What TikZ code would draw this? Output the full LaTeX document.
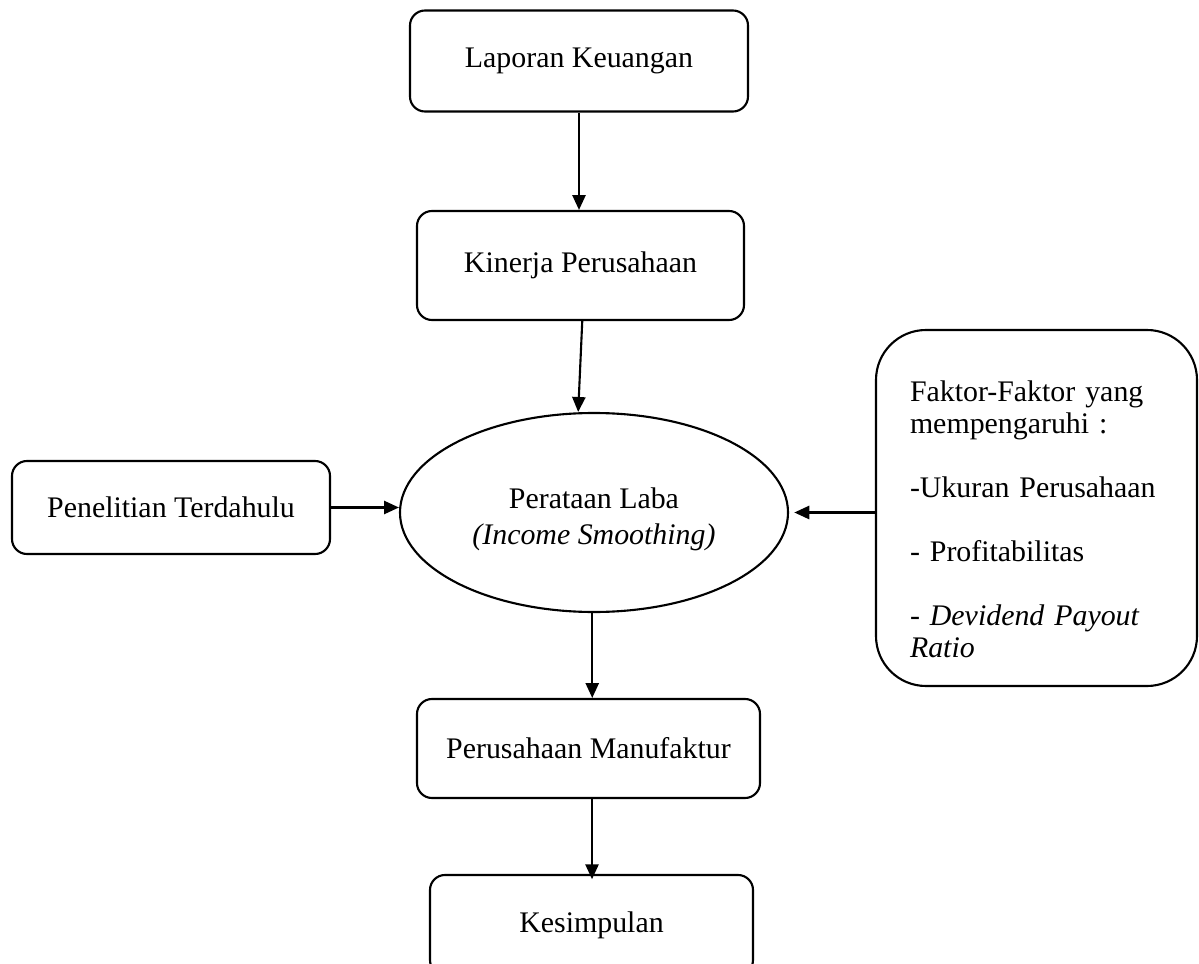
\documentclass[tikz,border=0pt]{standalone}
\usepackage{fontspec}
\setmainfont{Liberation Serif}
\usetikzlibrary{arrows.meta,positioning,shapes.geometric}
\tikzset{
  flowbox/.style={draw, rounded corners=3mm, line width=1.2pt, align=center,
    inner sep=0pt, font=\fontsize{17}{18.2}\selectfont},
  ovalbox/.style={ellipse, draw, line width=1.2pt, align=center, inner sep=0pt,
    minimum width=7.76cm, minimum height=3.98cm, font=\fontsize{17}{20.5}\selectfont},
  factorbox/.style={flowbox, rounded corners=1cm, align=left, inner xsep=0.68cm,
    text width=5.06cm, minimum width=6.42cm, minimum height=7.12cm},
  arr/.style={-{Triangle[length=8.5pt,width=7.5pt]}, line width=1.2pt}
}
\begin{document}
\begin{tikzpicture}[x=0.2mm,y=-0.2mm]
    \useasboundingbox (0,0) rectangle (1199,964);
    \clip (0,0) rectangle (1199,964);
    \node[flowbox, minimum width=6.76cm, minimum height=2.02cm] (laporan) at (579,61) {Laporan Keuangan};
    \node[flowbox, minimum width=6.54cm, minimum height=2.18cm] (kinerja) at (580.5,265.5) {Kinerja Perusahaan};
    \node[ovalbox] (perataan) at (594,512.5) {\rule{0pt}{19pt}Perataan Laba\\\textit{(Income Smoothing)}};
    \node[flowbox, minimum width=6.36cm, minimum height=1.86cm] (penelitian) at (171,507.5) {Penelitian Terdahulu};
    \node[factorbox] (faktor) at (1036.5,508) {\rule{0pt}{25pt}Faktor-Faktor yang\\mempengaruhi :\\[18.2pt]
      -Ukuran Perusahaan\\[18.2pt]- Profitabilitas\\[18.2pt]- \textit{Devidend Payout}\\\textit{Ratio}};
    \node[flowbox, minimum width=6.86cm, minimum height=1.98cm] (manufaktur) at (588.5,748.5) {Perusahaan Manufaktur};
    \node[flowbox, minimum width=6.46cm, minimum height=2.0cm] (kesimpulan) at (591.5,925) {Kesimpulan};
    % connectors
    \draw[arr] (laporan.south) -- (laporan.south |- kinerja.north);
    \draw[arr] ([xshift=1pt]kinerja.south) -- ([xshift=-9pt]perataan.north);
    \draw[arr] (penelitian.east) -- (penelitian.east -| perataan.west);
    \draw[arr] (faktor.west |- perataan.east) -- ([xshift=3pt]perataan.east);
    \draw[arr] ([xshift=-1pt]perataan.south) -- ([xshift=-1pt]perataan.south |- manufaktur.north);
    \draw[arr] ([xshift=2pt]manufaktur.south) -- ([xshift=2pt,yshift=-3pt]manufaktur.south |- kesimpulan.north);
\end{tikzpicture}
\end{document}
